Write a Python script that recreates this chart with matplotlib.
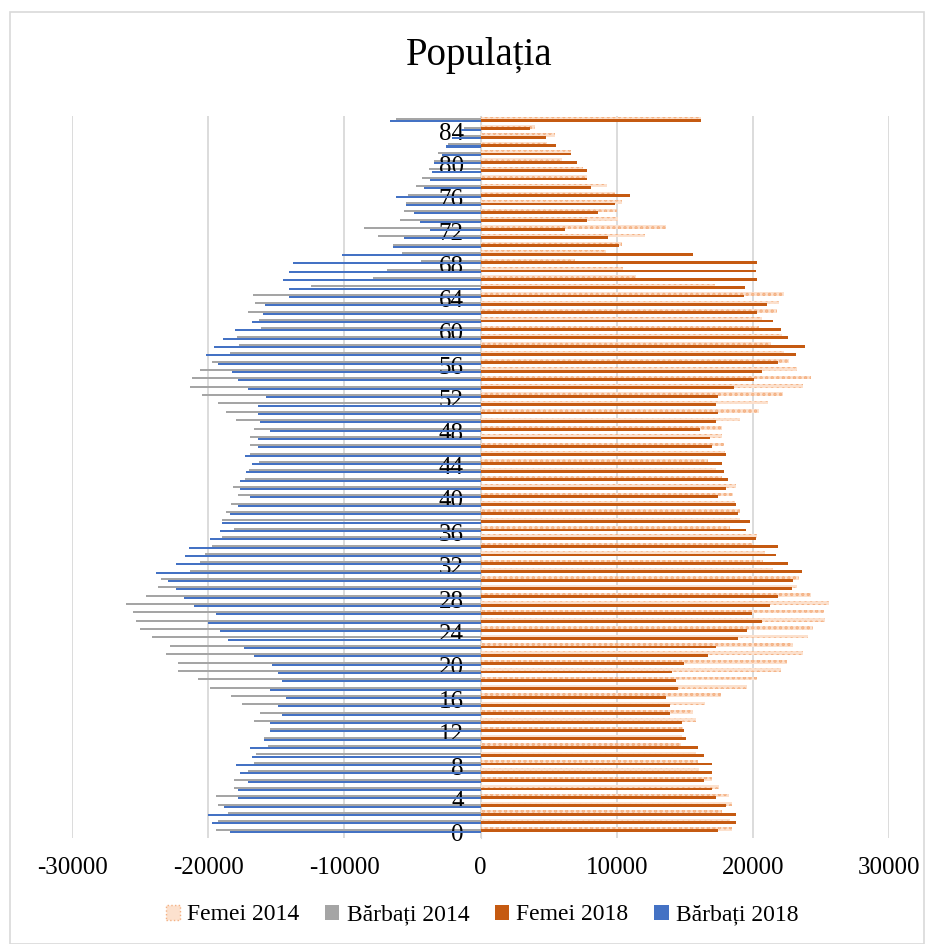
import matplotlib
matplotlib.use("Agg")
import matplotlib.pyplot as plt
from matplotlib.patches import Patch, Rectangle
import numpy as np

plt.rcParams['font.family'] = ['Liberation Serif', 'DejaVu Serif']
plt.rcParams['axes.unicode_minus'] = False
plt.rcParams['hatch.linewidth'] = 1.6

ages = list(range(0, 86))

femei_2014 = [18450, 18330, 17710, 18450, 18250, 17540, 16980, 16070, 16000, 15830,
              14700, 14770, 14900, 15800, 15630, 16510, 17660, 19600, 20290, 22070,
              22540, 23720, 22930, 24030, 24450, 25310, 25190, 25600, 24280, 23270,
              23420, 21510, 20780, 20900, 19990, 20290, 18330, 19060, 19060, 18700,
              18570, 18770, 17710, 17300, 16680, 17960, 17880, 17710, 17710, 19060,
              20480, 21090, 22250, 23720, 24280, 23270, 22690, 22300, 21350, 22150,
              20450, 20700, 21800, 21900, 22300, 17200, 11400, 10500, 6950, 9250,
              10400, 12100, 13600, 10100, 10000, 10400, 9850, 9300, 7850, 7500,
              6000, 6650, 4900, 5500, 4000, 16200]

barbati_2014 = [-19400, -19260, -18520, -19260, -19400, -18080, -18080, -17050, -16610, -16460,
                -15580, -15880, -15440, -16610, -16170, -17490, -18350, -19870, -20730, -22200,
                -22200, -23080, -22790, -24110, -24990, -25280, -25550, -26020, -24550, -23670,
                -23500, -21310, -20580, -20260, -19700, -18990, -18100, -18960, -18670, -18350,
                -17810, -18200, -17320, -17000, -16290, -16900, -16900, -16900, -16640, -17960,
                -18690, -19280, -20460, -21340, -21190, -20580, -19720, -18430, -17700, -17850,
                -16100, -16250, -17100, -16550, -16700, -12450, -7900, -6900, -4380, -5730,
                -6450, -7540, -8560, -5930, -5640, -5490, -5340, -4760, -4320, -3760,
                -3390, -3150, -2420, -1510, -1200, -6220]

femei_2018 = [17420, 18740, 18740, 18010, 17270, 16980, 16390, 16980, 16980, 16390,
              15950, 15070, 14920, 14770, 13890, 13890, 13600, 14480, 14330, 14040,
              14920, 16680, 17270, 18890, 19600, 20650, 19920, 21240, 21830, 22860,
              22980, 23590, 22560, 21680, 21830, 20210, 19480, 19800, 18890, 18740,
              17420, 18010, 18150, 17880, 17740, 18030, 17000, 16860, 16100, 17300,
              17420, 17270, 17420, 18620, 20090, 20650, 21830, 23200, 23850, 22600,
              22100, 21450, 20300, 21050, 19350, 19450, 20300, 20200, 20300, 15600,
              10200, 9400, 6200, 7850, 8600, 9900, 10950, 8150, 7850, 7850,
              7100, 6650, 5550, 4800, 3650, 16200]

barbati_2018 = [-18380, -19700, -19990, -18820, -17790, -17790, -17050, -17640, -17930, -16760,
                -16900, -15880, -15440, -15440, -14550, -14850, -14260, -15440, -14550, -14850,
                -15290, -16610, -17350, -18520, -19110, -20020, -19430, -21020, -21760, -22370,
                -22960, -23810, -22340, -21730, -21440, -19840, -19110, -18960, -18380, -17810,
                -16900, -17640, -17640, -17200, -16780, -17320, -16340, -16340, -15440, -16170,
                -16340, -16340, -15750, -17080, -17810, -18250, -19280, -20160, -19600, -18900,
                -18000, -16800, -15950, -15800, -14050, -14050, -14500, -14050, -13800, -10200,
                -6450, -5600, -3730, -4470, -4900, -5490, -6220, -4170, -3730, -3590,
                -3440, -2850, -2560, -2120, -1400, -6660]

series_names = ['Femei 2014', 'Bărbați 2014', 'Femei 2018', 'Bărbați 2018']
x_ticks = [-30000, -20000, -10000, 0, 10000, 20000, 30000]
x_tick_labels = ['-30000', '-20000', '-10000', '0', '10000', '20000', '30000']
y_ticks = list(range(0, 85, 4))

c_peach_face = '#FCE1CE'
c_peach_edge = '#F4B183'
c_gray = '#A5A5A5'
c_orange = '#C55A11'
c_blue = '#4472C4'

W, H = 933, 944
fig = plt.figure(figsize=(W / 100, H / 100), dpi=100)

# chart-area border
fig.patches.append(Rectangle((9.5 / W, 0.0), (924 - 9.5) / W, 1 - 12 / H,
                             transform=fig.transFigure, fill=False,
                             edgecolor='#D9D9D9', linewidth=1.2))

ax = fig.add_axes([72 / W, 1 - 838 / H, (889 - 72) / W, (838 - 116) / H])

for s in ['top', 'right', 'bottom']:
    ax.spines[s].set_visible(False)
ax.spines['left'].set_position(('data', 0))
ax.spines['left'].set_color('#D9D9D9')
ax.spines['left'].set_zorder(0)

ax.set_xlim(-30000, 30000)
ax.set_ylim(-0.6, 85.8)

y = np.array(ages, dtype=float)

for xv in x_ticks:
    ax.axvline(xv, color='#D9D9D9', linewidth=1.3, zorder=0)

ax.barh(y + 0.50, femei_2014, height=0.44, facecolor=c_peach_face,
        edgecolor=c_peach_edge, hatch='...', linewidth=0, zorder=1)
ax.barh(y + 0.40, barbati_2014, height=0.24, color=c_gray, zorder=1)
ax.barh(y + 0.26, femei_2018, height=0.34, color=c_orange, zorder=2)
ax.barh(y + 0.15, barbati_2018, height=0.24, color=c_blue, zorder=2)

ax.set_xticks(x_ticks)
ax.set_xticklabels(x_tick_labels, fontsize=18)
ax.set_yticks(y_ticks)
ax.set_yticklabels([str(v) for v in y_ticks], fontsize=18)
ax.tick_params(axis='both', length=0)
ax.tick_params(axis='x', pad=14)
ax.tick_params(axis='y', pad=12)

fig.text(479 / W, 1 - 55 / H, 'Populația', ha='center', va='center', fontsize=28)

handles = [
    Patch(facecolor=c_peach_face, edgecolor=c_peach_edge, linestyle=':', linewidth=1.0),
    Patch(facecolor=c_gray, edgecolor='none'),
    Patch(facecolor=c_orange, edgecolor='none'),
    Patch(facecolor=c_blue, edgecolor='none'),
]
fig.legend(handles, series_names, loc='center', bbox_to_anchor=(482 / W, 1 - 915 / H),
           ncol=4, frameon=False, fontsize=17, handlelength=0.6, handleheight=0.6,
           handletextpad=0.3, columnspacing=1.1)

fig.savefig('out.png', dpi=100)
